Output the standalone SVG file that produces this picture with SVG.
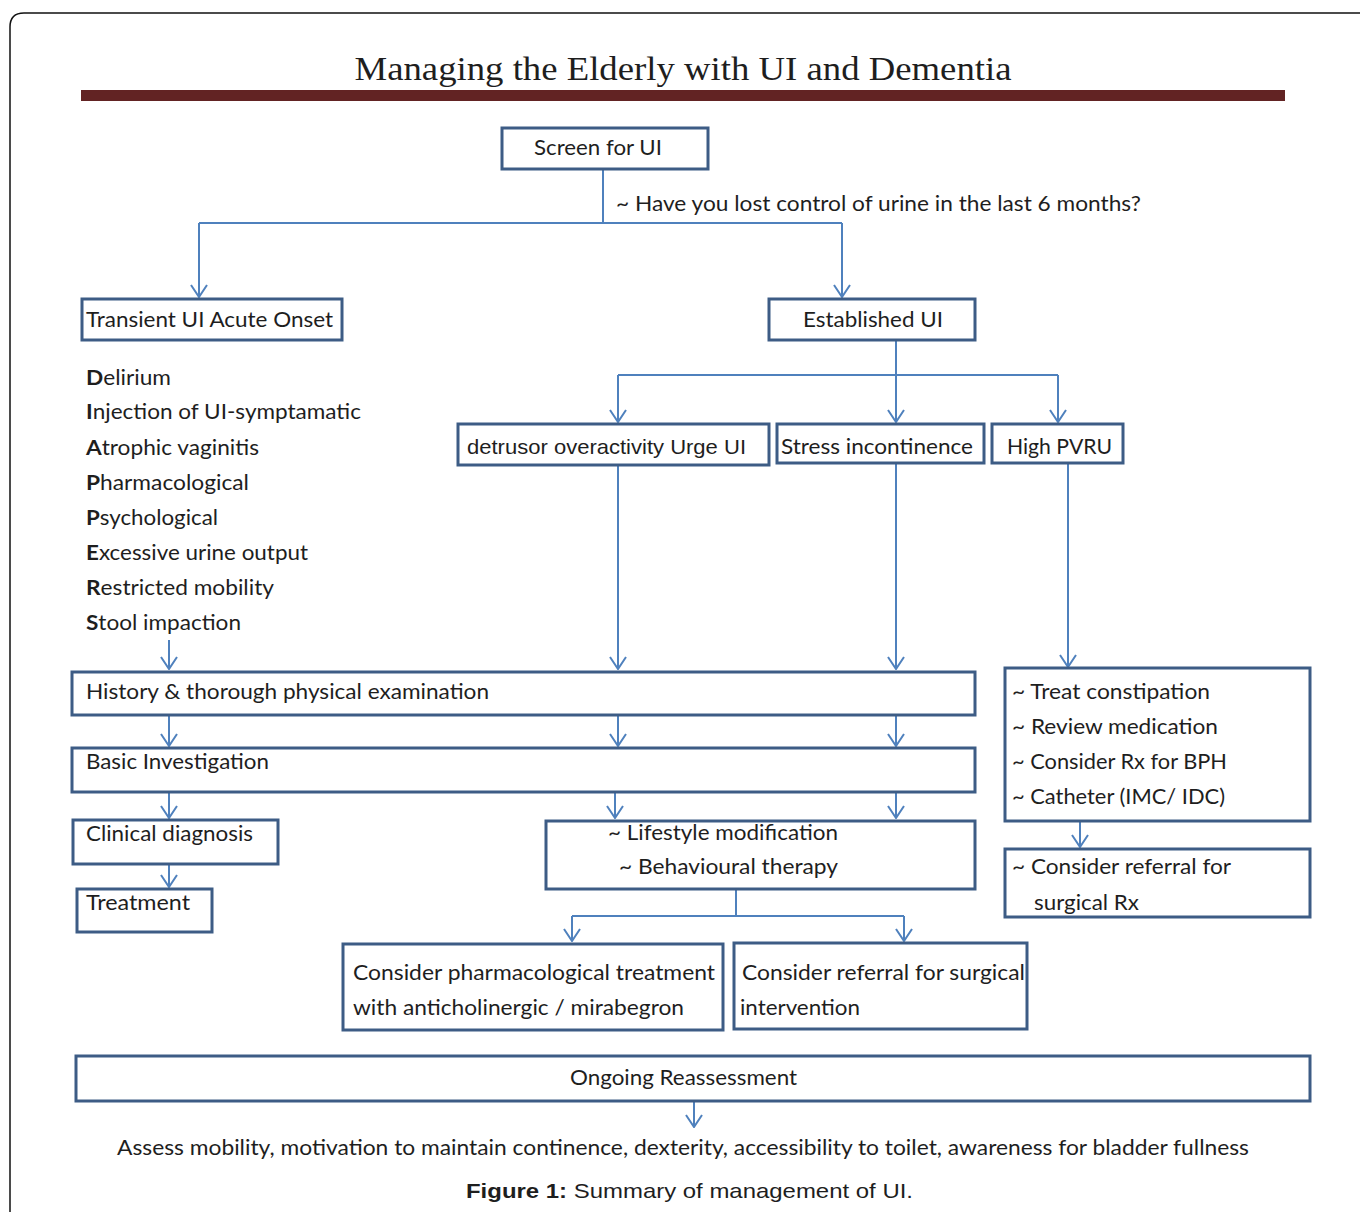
<svg xmlns="http://www.w3.org/2000/svg" width="1360" height="1212" viewBox="0 0 1360 1212">
<defs>
<style>
.box{fill:#fff;stroke:#3d5c85;stroke-width:3}
.ln{fill:none;stroke:#4f81bd;stroke-width:2}
.t{font-family:Lato,"Open Sans",sans-serif;font-size:21px;fill:#1e1e1e}
.a{font-family:"Liberation Sans",Arial,sans-serif;font-size:21px;fill:#1e1e1e}
.ttl{font-family:"Liberation Serif","DejaVu Serif",serif;font-size:34px;fill:#1e1e1e}
</style>
<marker id="arr" viewBox="0 0 14 18" refX="13" refY="9" markerWidth="14" markerHeight="18" markerUnits="userSpaceOnUse" orient="auto">
<path d="M1,1 L13,9 L1,17" fill="none" stroke="#4f81bd" stroke-width="2"/>
</marker>
</defs>
<rect width="1360" height="1212" fill="#fff"/>
<path d="M10,1212 V27 Q10,13 24,13 H1360" fill="none" stroke="#111" stroke-width="1.5"/>
<g id="title">
<text class="ttl" x="683" y="80" text-anchor="middle" textLength="657" lengthAdjust="spacingAndGlyphs">Managing the Elderly with UI and Dementia</text>
<rect x="81" y="90" width="1204" height="11" fill="#622323"/>
</g>
<g id="connectors">
<path class="ln" d="M603,169 V223"/>
<path class="ln" d="M199,223 H842"/>
<path class="ln" d="M199,223 V297" marker-end="url(#arr)"/>
<path class="ln" d="M842,223 V297" marker-end="url(#arr)"/>
<path class="ln" d="M896,340 V422" marker-end="url(#arr)"/>
<path class="ln" d="M618,375 H1058"/>
<path class="ln" d="M618,375 V422" marker-end="url(#arr)"/>
<path class="ln" d="M1058,375 V422" marker-end="url(#arr)"/>
<path class="ln" d="M169,640 V669" marker-end="url(#arr)"/>
<path class="ln" d="M618,465 V669" marker-end="url(#arr)"/>
<path class="ln" d="M896,463 V669" marker-end="url(#arr)"/>
<path class="ln" d="M1068,463 V667" marker-end="url(#arr)"/>
<path class="ln" d="M169,715 V746" marker-end="url(#arr)"/>
<path class="ln" d="M618,715 V746" marker-end="url(#arr)"/>
<path class="ln" d="M896,715 V746" marker-end="url(#arr)"/>
<path class="ln" d="M169,792 V818" marker-end="url(#arr)"/>
<path class="ln" d="M615,792 V818" marker-end="url(#arr)"/>
<path class="ln" d="M896,792 V818" marker-end="url(#arr)"/>
<path class="ln" d="M169,864 V887" marker-end="url(#arr)"/>
<path class="ln" d="M736,889 V916"/>
<path class="ln" d="M572,916 H904"/>
<path class="ln" d="M572,916 V941" marker-end="url(#arr)"/>
<path class="ln" d="M904,916 V941" marker-end="url(#arr)"/>
<path class="ln" d="M1080,821 V847" marker-end="url(#arr)"/>
<path class="ln" d="M694,1101 V1127" marker-end="url(#arr)"/>
<text class="t" x="616" y="211" textLength="525" lengthAdjust="spacingAndGlyphs">~ Have you lost control of urine in the last 6 months?</text>
</g>
<g id="screen">
<rect class="box" x="502" y="128" width="206" height="41"/>
<text class="t" x="534" y="155" textLength="128" lengthAdjust="spacingAndGlyphs">Screen for UI</text>
</g>
<g id="transient">
<rect class="box" x="82" y="299" width="260" height="41"/>
<text class="t" x="86" y="327" textLength="247" lengthAdjust="spacingAndGlyphs">Transient UI Acute Onset</text>
</g>
<g id="established">
<rect class="box" x="769" y="299" width="206" height="41"/>
<text class="t" x="803" y="327" textLength="140" lengthAdjust="spacingAndGlyphs">Established UI</text>
</g>
<g id="diappers">
<text class="t" x="86" y="385" textLength="85" lengthAdjust="spacingAndGlyphs"><tspan font-weight="bold">D</tspan>elirium</text>
<text class="t" x="86" y="419" textLength="275" lengthAdjust="spacingAndGlyphs"><tspan font-weight="bold">I</tspan>njection of UI-symptamatic</text>
<text class="t" x="86" y="455" textLength="173" lengthAdjust="spacingAndGlyphs"><tspan font-weight="bold">A</tspan>trophic vaginitis</text>
<text class="t" x="86" y="490" textLength="163" lengthAdjust="spacingAndGlyphs"><tspan font-weight="bold">P</tspan>harmacological</text>
<text class="t" x="86" y="525" textLength="132" lengthAdjust="spacingAndGlyphs"><tspan font-weight="bold">P</tspan>sychological</text>
<text class="t" x="86" y="560" textLength="222" lengthAdjust="spacingAndGlyphs"><tspan font-weight="bold">E</tspan>xcessive urine output</text>
<text class="t" x="86" y="595" textLength="188" lengthAdjust="spacingAndGlyphs"><tspan font-weight="bold">R</tspan>estricted mobility</text>
<text class="t" x="86" y="630" textLength="155" lengthAdjust="spacingAndGlyphs"><tspan font-weight="bold">S</tspan>tool impaction</text>
</g>
<g id="detrusor">
<rect class="box" x="458" y="424" width="311" height="41"/>
<text class="a" x="467" y="454" textLength="279" lengthAdjust="spacingAndGlyphs">detrusor overactivity Urge UI</text>
</g>
<g id="stress">
<rect class="box" x="777" y="424" width="207" height="39"/>
<text class="t" x="781" y="454" textLength="192" lengthAdjust="spacingAndGlyphs">Stress incontinence</text>
</g>
<g id="pvru">
<rect class="box" x="992" y="424" width="131" height="39"/>
<text class="t" x="1007" y="454" textLength="105" lengthAdjust="spacingAndGlyphs">High PVRU</text>
</g>
<g id="history">
<rect class="box" x="72" y="672" width="903" height="43"/>
<text class="t" x="86" y="699" textLength="403" lengthAdjust="spacingAndGlyphs">History &amp; thorough physical examination</text>
</g>
<g id="basic">
<rect class="box" x="72" y="748" width="903" height="44"/>
<text class="t" x="86" y="769" textLength="183" lengthAdjust="spacingAndGlyphs">Basic Investigation</text>
</g>
<g id="clinical">
<rect class="box" x="73" y="820" width="205" height="44"/>
<text class="t" x="86" y="841" textLength="167" lengthAdjust="spacingAndGlyphs">Clinical diagnosis</text>
</g>
<g id="treatment">
<rect class="box" x="77" y="889" width="135" height="43"/>
<text class="t" x="86" y="910" textLength="104" lengthAdjust="spacingAndGlyphs">Treatment</text>
</g>
<g id="lifestyle">
<rect class="box" x="546" y="821" width="429" height="68"/>
<text class="t" x="608" y="840" textLength="230" lengthAdjust="spacingAndGlyphs">~ Lifestyle modification</text>
<text class="t" x="619" y="874" textLength="219" lengthAdjust="spacingAndGlyphs">~ Behavioural therapy</text>
</g>
<g id="pharm">
<rect class="box" x="343" y="944" width="380" height="86"/>
<text class="t" x="353" y="980" textLength="362" lengthAdjust="spacingAndGlyphs">Consider pharmacological treatment</text>
<text class="t" x="353" y="1015" textLength="331" lengthAdjust="spacingAndGlyphs">with anticholinergic / mirabegron</text>
</g>
<g id="surgical">
<rect class="box" x="734" y="943" width="293" height="86"/>
<text class="t" x="742" y="980" textLength="283" lengthAdjust="spacingAndGlyphs">Consider referral for surgical</text>
<text class="t" x="740" y="1015" textLength="120" lengthAdjust="spacingAndGlyphs">intervention</text>
</g>
<g id="pvru-mgmt">
<rect class="box" x="1005" y="668" width="305" height="153"/>
<text class="t" x="1012" y="699" textLength="198" lengthAdjust="spacingAndGlyphs">~ Treat constipation</text>
<text class="t" x="1012" y="734" textLength="206" lengthAdjust="spacingAndGlyphs">~ Review medication</text>
<text class="t" x="1012" y="769" textLength="215" lengthAdjust="spacingAndGlyphs">~ Consider Rx for BPH</text>
<text class="t" x="1012" y="804" textLength="213" lengthAdjust="spacingAndGlyphs">~ Catheter (IMC/ IDC)</text>
</g>
<g id="pvru-referral">
<rect class="box" x="1005" y="849" width="305" height="68"/>
<text class="t" x="1012" y="874" textLength="219" lengthAdjust="spacingAndGlyphs">~ Consider referral for</text>
<text class="t" x="1034" y="910" textLength="105" lengthAdjust="spacingAndGlyphs">surgical Rx</text>
</g>
<g id="ongoing">
<rect class="box" x="76" y="1056" width="1234" height="45"/>
<text class="t" x="570" y="1085" textLength="227" lengthAdjust="spacingAndGlyphs">Ongoing Reassessment</text>
</g>
<g id="assess">
<text class="t" x="117" y="1155" textLength="1132" lengthAdjust="spacingAndGlyphs">Assess mobility, motivation to maintain continence, dexterity, accessibility to toilet, awareness for bladder fullness</text>
</g>
<g id="caption">
<text class="a" x="466" y="1198" textLength="447" lengthAdjust="spacingAndGlyphs"><tspan font-weight="bold">Figure 1:</tspan> Summary of management of UI.</text>
</g>
</svg>
